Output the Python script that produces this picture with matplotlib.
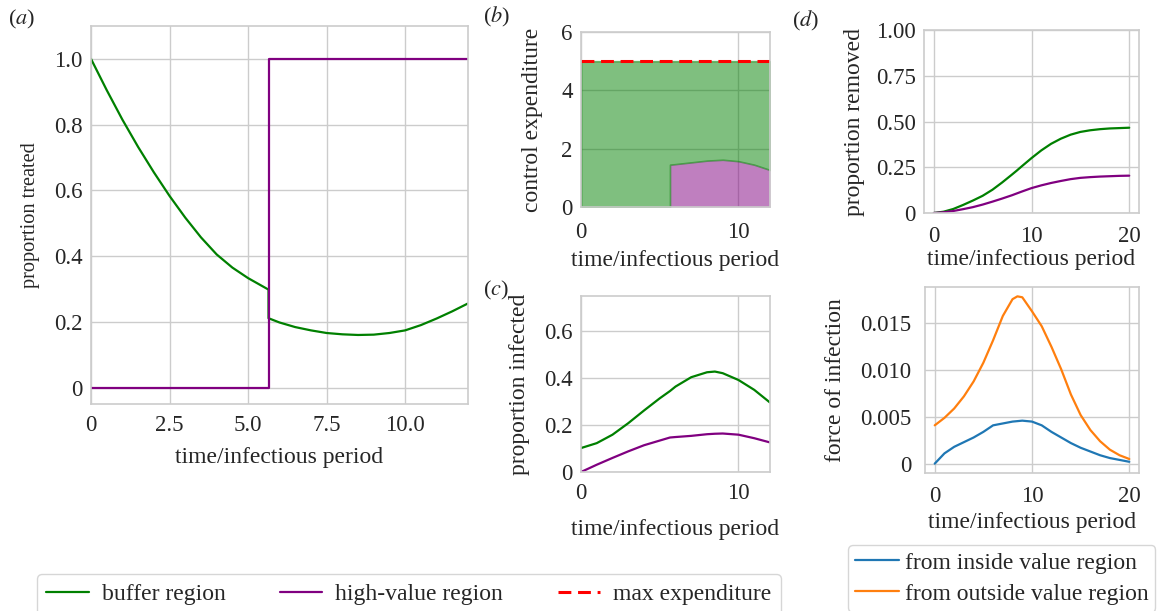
import matplotlib
matplotlib.use('Agg')
import matplotlib.pyplot as plt

plt.style.use('seaborn-v0_8-whitegrid')
plt.rcParams['font.family'] = ['Liberation Serif', 'DejaVu Serif']
plt.rcParams['mathtext.fontset'] = 'stix'
plt.rcParams['font.size'] = 17
plt.rcParams['axes.edgecolor'] = '#cccccc'
plt.rcParams['grid.color'] = '#cccccc'
plt.rcParams['axes.linewidth'] = 1.2
plt.rcParams['grid.linewidth'] = 1.0

# (a) proportion treated
t_a = [0, 0.5, 1, 1.5, 2, 2.5, 3, 3.5, 4, 4.5, 5, 5.65, 5.65, 6, 6.5, 7, 7.5, 8, 8.5, 9,
       9.5, 10, 10.5, 11, 11.5, 12]
buffer_treated = [1.0, 0.905, 0.815, 0.732, 0.655, 0.583, 0.517, 0.457, 0.405, 0.365, 0.333,
                  0.298, 0.211, 0.198, 0.184, 0.174, 0.166, 0.162, 0.160, 0.161, 0.166,
                  0.174, 0.19, 0.21, 0.232, 0.256]
hv_treated = [0] * 12 + [1] * 14

# (b) control expenditure
max_budget = 5
t_b = [0, 5.65, 5.65, 6, 7, 8, 9, 10, 11, 12]
hv_spend = [0, 0, 1.45, 1.47, 1.53, 1.59, 1.62, 1.57, 1.45, 1.27]

# (c) proportion infected
t_c = [0, 1, 2, 3, 4, 5, 5.65, 6, 7, 8, 8.5, 9, 10, 11, 12]
buffer_inf = [0.102, 0.123, 0.159, 0.208, 0.262, 0.314, 0.345, 0.364, 0.404, 0.425, 0.428,
              0.421, 0.392, 0.35, 0.296]
hv_inf = [0, 0.031, 0.06, 0.088, 0.114, 0.134, 0.147, 0.149, 0.154, 0.161, 0.163, 0.164,
          0.159, 0.144, 0.126]

# (d) proportion removed, force of infection
t_d = [0, 1, 2, 3, 4, 5, 6, 7, 8, 8.5, 9, 10, 11, 12, 13, 14, 15, 16, 17, 18, 19, 20]
buffer_removed = [0, 0.007, 0.022, 0.044, 0.068, 0.094, 0.127, 0.167, 0.21, 0.232, 0.255,
                  0.30, 0.342, 0.378, 0.406, 0.428, 0.443, 0.452, 0.458, 0.462, 0.464, 0.466]
hv_removed = [0, 0.004, 0.011, 0.021, 0.032, 0.046, 0.062, 0.079, 0.097, 0.107, 0.117,
              0.136, 0.151, 0.164, 0.175, 0.185, 0.192, 0.196, 0.199, 0.201, 0.203, 0.204]
foi_inside = [0, 0.0011, 0.0018, 0.0023, 0.0028, 0.0034, 0.0041, 0.0043, 0.0045, 0.00455,
              0.0046, 0.0045, 0.0041, 0.0034, 0.0028, 0.0022, 0.0017, 0.0013, 0.0009, 0.0006,
              0.0004, 0.0002]
foi_outside = [0.0041, 0.0049, 0.0059, 0.0072, 0.0088, 0.0108, 0.0132, 0.0158, 0.0176, 0.0179,
               0.0178, 0.0163, 0.0147, 0.0125, 0.0101, 0.0074, 0.0052, 0.0036, 0.0024, 0.0015,
               0.0009, 0.0005]

W, H = 1167, 611
fig = plt.figure(figsize=(W / 100, H / 100), dpi=100)


def box(l, r, t, b):
    return [l / W, 1 - b / H, (r - l) / W, (b - t) / H]


ax_a = fig.add_axes(box(91, 468, 26, 404))
ax_b = fig.add_axes(box(581, 770, 32, 207))
ax_c = fig.add_axes(box(581, 770, 296, 472))
ax_d1 = fig.add_axes(box(924, 1139, 30, 213))
ax_d2 = fig.add_axes(box(925, 1139, 287, 473))

lw = 1.6
xlab = 'time/infectious period'

ax_a.plot(t_a, buffer_treated, color='green', lw=lw, label='buffer region')
ax_a.plot(t_a, hv_treated, color='purple', lw=lw, label='high-value region')
ax_a.set(xlim=(0, 12), ylim=(-0.05, 1.1))
ax_a.set_xlabel(xlab, labelpad=8)
ax_a.set_ylabel('proportion treated', fontsize=14.6, labelpad=10)
ax_a.set_xticks([0, 2.5, 5, 7.5, 10], ['0', '2.5', '5.0', '7.5', '10.0'])
ax_a.set_yticks([0, 0.2, 0.4, 0.6, 0.8, 1.0], ['0', '0.2', '0.4', '0.6', '0.8', '1.0'])
ax_a.tick_params(axis='x', pad=8)
ax_a.tick_params(axis='y', pad=6)

hv_top = [max_budget] * len(t_b)
ax_b.fill_between(t_b, 0, hv_spend, color='purple', alpha=0.5, lw=0)
ax_b.fill_between(t_b, hv_spend, hv_top, color='green', alpha=0.5, lw=1.2)
ax_b.plot([0, 12], [max_budget, max_budget], color='red', ls='--', lw=2.2,
          dashes=(4.2, 2.2), label='max expenditure')
ax_b.set(xlim=(0, 12), ylim=(0, 6))
ax_b.set_xlabel(xlab, labelpad=5)
ax_b.set_ylabel('control expenditure', labelpad=13)
ax_b.set_xticks([0, 10], ['0', '10'])
ax_b.set_yticks([0, 2, 4, 6], ['0', '2', '4', '6'])
ax_b.tick_params(axis='x', pad=11)
ax_b.tick_params(axis='y', pad=6)

ax_c.plot(t_c, buffer_inf, color='green', lw=lw)
ax_c.plot(t_c, hv_inf, color='purple', lw=lw)
ax_c.set(xlim=(0, 12), ylim=(0, 0.75))
ax_c.set_xlabel(xlab, labelpad=11)
ax_c.set_ylabel('proportion infected', labelpad=10)
ax_c.set_xticks([0, 10], ['0', '10'])
ax_c.set_yticks([0, 0.2, 0.4, 0.6], ['0', '0.2', '0.4', '0.6'])
ax_c.tick_params(axis='x', pad=8)
ax_c.tick_params(axis='y', pad=6)

ax_d1.plot(t_d, buffer_removed, color='green', lw=lw)
ax_d1.plot(t_d, hv_removed, color='purple', lw=lw)
ax_d1.set(xlim=(-1, 21), ylim=(0, 1))
ax_d1.set_xlabel(xlab, labelpad=2)
ax_d1.set_ylabel('proportion removed', labelpad=8)
ax_d1.set_xticks([0, 10, 20], ['0', '10', '20'])
ax_d1.set_yticks([0, 0.25, 0.5, 0.75, 1.0], ['0', '0.25', '0.50', '0.75', '1.00'])
ax_d1.tick_params(axis='x', pad=9)
ax_d1.tick_params(axis='y', pad=6)

ax_d2.plot(t_d, foi_inside, color='#1f77b4', lw=lw, label='from inside value region')
ax_d2.plot(t_d, foi_outside, color='#ff7f0e', lw=lw, label='from outside value region')
ax_d2.set(xlim=(-1, 21), ylim=(-0.001, 0.0189))
ax_d2.set_xlabel(xlab, labelpad=4)
ax_d2.set_ylabel('force of infection', labelpad=10.5)
ax_d2.set_xticks([0, 10, 20], ['0', '10', '20'])
ax_d2.set_yticks([0, 0.005, 0.01, 0.015], ['0', '0.005', '0.010', '0.015'])
ax_d2.tick_params(axis='x', pad=9)
ax_d2.tick_params(axis='y', pad=9.6)

for ax in [ax_a, ax_b, ax_c, ax_d1, ax_d2]:
    ax.set_axisbelow(True)
    ax.tick_params(labelsize=16.5)
    for s in ax.spines.values():
        s.set_color('#cccccc')

# panel letters
for x, y, s in [(8, 19, 'a'), (483, 17, 'b'), (483, 290, 'c'), (792, 21, 'd')]:
    fig.text(x / W, 1 - y / H, '($%s$)' % s, fontsize=16, va='center', ha='left')

h1 = ax_a.get_legend_handles_labels()
h2 = ax_b.get_legend_handles_labels()
fig.legend(h1[0] + h2[0], h1[1] + h2[1], loc='upper left', bbox_to_anchor=(37 / W, 1 - 574 / H),
           ncol=3, frameon=True, fontsize=17, columnspacing=2.3, handlelength=1.8,
           handletextpad=0.55, borderaxespad=0)
fig.legend(*ax_d2.get_legend_handles_labels(), loc='upper left',
           bbox_to_anchor=(848 / W, 1 - 545 / H), frameon=True, fontsize=17,
           handlelength=1.85, handletextpad=0.25, labelspacing=0.4, borderpad=0.3,
           borderaxespad=0)

fig.savefig('out.png', dpi=100)
